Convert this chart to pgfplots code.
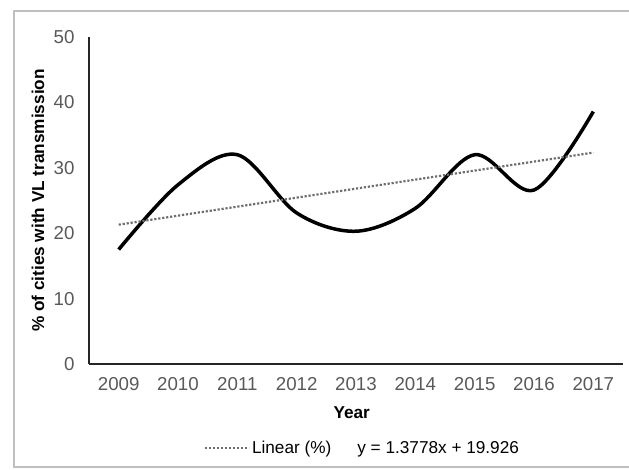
\documentclass[border=0pt]{standalone}
\usepackage{pgfplots}
\pgfplotsset{compat=1.18}
\usepackage{fontspec}
\setmainfont{Liberation Sans}

\definecolor{ticktxt}{HTML}{595959}
\definecolor{trendgray}{HTML}{6E6E6E}
\definecolor{framegray}{HTML}{BFBFBF}

\begin{document}
\begin{tikzpicture}
% page size: 629 x 470, axis box corner at the origin
\useasboundingbox (-89pt,-106pt) rectangle (540pt,364pt);
\draw[framegray, line width=1.3pt] (-75pt,-103pt) rectangle (560pt,353pt);

\begin{axis}[
    at={(0pt,0pt)}, anchor=south west,
    scale only axis,
    width=534pt, height=327pt,
    xmin=0.5, xmax=9.5,
    ymin=0, ymax=50,
    xtick={1,...,9},
    xticklabels={2009,2010,2011,2012,2013,2014,2015,2016,2017},
    ytick={0,10,...,50},
    axis x line=bottom, axis y line=left,
    axis line style={-, line width=1.5pt, black!85},
    major tick length=0pt,
    /pgf/number format/assume math mode=true,
    ticklabel style={font=\fontsize{18.7}{22}\selectfont, text=ticktxt},
    xticklabel style={yshift=-10pt},
    yticklabel style={xshift=-11pt},
    xlabel={Year},
    ylabel={\% of cities with VL transmission},
    xlabel style={at={(axis description cs:0.492,-0.149)}, anchor=center,
        font=\bfseries\fontsize{17.2}{20}\selectfont},
    ylabel style={at={(axis description cs:-0.0955,0.5)}, anchor=center,
        font=\bfseries\fontsize{17.2}{20}\selectfont},
    legend style={at={(axis description cs:0.512,-0.257)}, anchor=center,
        draw=none, fill=none, inner sep=0pt,
        font=\fontsize{17.2}{20}\selectfont,
        /tikz/every even column/.append style={column sep=0pt}},
    legend cell align=left,
    legend image code/.code={
        \draw[#1] (0pt,0pt) -- (38pt,0pt);
        \path (0pt,0pt) -- (44pt,0pt);},
    clip=false,
]

% share of cities with VL transmission (%)
\addplot[black, line width=3.5pt, smooth, tension=0.55, forget plot]
coordinates {
    (1,17.5) (2,27.4) (3,32.0) (4,23.1) (5,20.3)
    (6,23.8) (7,32.0) (8,26.6) (9,38.6)
};

% linear trend, y = 1.3778x + 19.926
\addplot[trendgray, line width=2.2pt, dash pattern=on 2.2pt off 1.8pt]
coordinates {
    (1,21.304) (9,32.326)
};
\addlegendentry{Linear (\%)\hspace{26pt}y = 1.3778x + 19.926}

\end{axis}
\end{tikzpicture}
\end{document}
